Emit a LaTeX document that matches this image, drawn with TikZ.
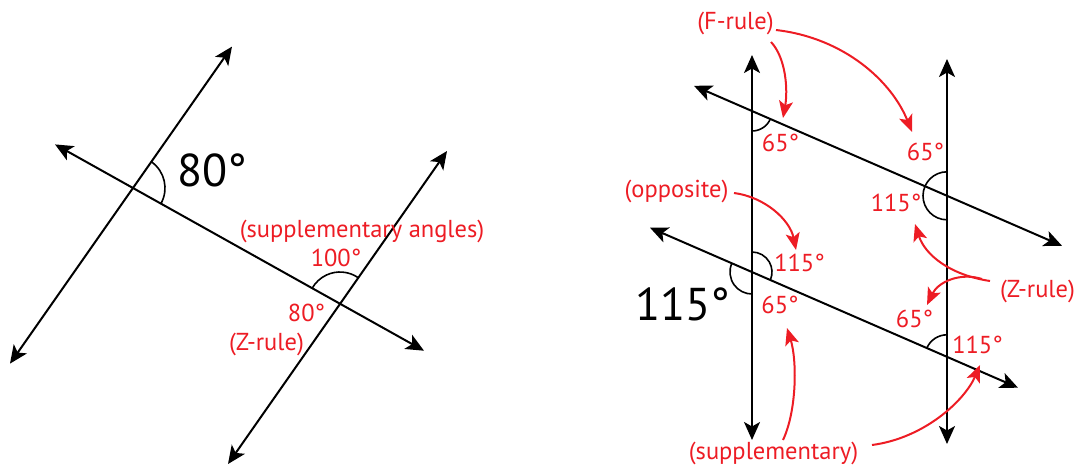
\documentclass[tikz,border=0pt]{standalone}
\usepackage{fontspec}
\setmainfont{PT Sans}
\usetikzlibrary{arrows.meta,calc}
\definecolor{myred}{HTML}{ED1C24}
\begin{document}
\begin{tikzpicture}[x=1pt,y=-1pt,
  blk/.style={line width=2pt, draw=black, {Stealth[length=18pt,width=16pt,inset=4.5pt]}-{Stealth[length=18pt,width=16pt,inset=4.5pt]}},
  arcline/.style={line width=1.6pt, draw=black},
  redarrow/.style={draw=myred, line width=2pt, -{Stealth[length=17pt,width=14pt,inset=4pt]}},
  redlabel/.style={text=myred, font=\fontsize{24.5}{24.5}\selectfont, anchor=base, inner sep=0pt},
  biglabel/.style={text=black, font=\fontsize{46}{46}\selectfont, anchor=base, inner sep=0pt}]
\useasboundingbox (0,0) rectangle (1081,472);

% ---------- left figure ----------
\coordinate (P1) at (133,188);
\coordinate (P2) at (340,304);
\coordinate (A1) at (10,363.6);
\coordinate (A2) at (232,46.6);
\coordinate (B1) at (55,144.4);
\coordinate (B2) at (424,350.7);
\coordinate (C1) at (228,464);
\coordinate (C2) at (447,151);
\draw[blk] (A1) -- (A2);
\draw[blk] (B1) -- (B2);
\draw[blk] (C1) -- (C2);
\draw[arcline] ($(P1)+(-55:32)$) arc[start angle=-55, end angle=29.2, radius=32];
\draw[arcline] ($(P2)+(-55:32)$) arc[start angle=-55, end angle=-150.8, radius=32];

\node[biglabel] (l80) at (212.5,186.7) {80°};
\node[redlabel] (lsa) at (362,237) {(supplementary angles)};
\node[redlabel] (l100) at (336,266.5) {100°};
\node[redlabel] (l80r) at (306.5,321.5) {80°};
\node[redlabel] (lz) at (266.5,350) {(Z-rule)};

% ---------- right figure ----------
\coordinate (V1t) at (752,55);
\coordinate (V1b) at (752,440);
\coordinate (V2t) at (947,59);
\coordinate (V2b) at (947,444);
\coordinate (T1l) at (694,85.8);
\coordinate (T1r) at (1062,245.8);
\coordinate (T2l) at (650,227.7);
\coordinate (T2r) at (1018,387.7);
\coordinate (Q1) at (752,111);
\coordinate (Q2) at (947,195.8);
\coordinate (Q3) at (752,272);
\coordinate (Q4) at (947,356.8);
\draw[blk] (V1b) -- (V1t);
\draw[blk] (V2b) -- (V2t);
\draw[blk] (T1l) -- (T1r);
\draw[blk] (T2l) -- (T2r);
\draw[arcline] ($(Q1)+(90:20)$) arc[start angle=90, end angle=23.5, radius=20];
\draw[arcline] ($(Q2)+(-90:24)$) arc[start angle=-90, end angle=-270, radius=24];
\draw[arcline] ($(Q3)+(-90:20)$) arc[start angle=-90, end angle=23.5, radius=20];
\draw[arcline] ($(Q3)+(-156.5:22)$) arc[start angle=-156.5, end angle=-270, radius=22];
\draw[arcline] ($(Q4)+(-90:22)$) arc[start angle=-90, end angle=-156.5, radius=22];

\node[redlabel] (fr) at (735.5,29.3) {(F-rule)};
\node[redlabel] (a65a) at (780.5,151.7) {65°};
\node[redlabel] (a65b) at (925.5,160.7) {65°};
\node[redlabel] (a115a) at (896,211.7) {115°};
\node[redlabel] (opp) at (676.5,197) {(opposite)};
\node[redlabel] (a115b) at (799.5,271.7) {115°};
\node[redlabel] (a65c) at (780,313.3) {65°};
\node[biglabel] (b115) at (683,320) {115°};
\node[redlabel] (zr) at (1037.5,297.3) {(Z-rule)};
\node[redlabel] (a65d) at (914.5,327.3) {65°};
\node[redlabel] (a115c) at (977.5,353.3) {115°};
\node[redlabel] (sup) at (773.5,459) {(supplementary)};

% red arrows
\coordinate (f1s) at (771,42);   \coordinate (f1e) at (783,118);
\coordinate (f2s) at (776,30);   \coordinate (f2e) at (912,132);
\coordinate (o1s) at (734,193);  \coordinate (o1e) at (796,250);
\coordinate (z1s) at (990,281);  \coordinate (z1e) at (915,224);
\coordinate (z2s) at (982,279);  \coordinate (z2e) at (927,305);
\coordinate (s1s) at (783,440);  \coordinate (s1e) at (787,328);
\coordinate (s2s) at (872,445);  \coordinate (s2e) at (980,365);
\draw[redarrow] (f1s) .. controls (786,58) and (788,90) .. (f1e);
\draw[redarrow] (f2s) .. controls (845,38) and (892,82) .. (f2e);
\draw[redarrow] (o1s) .. controls (765,197) and (790,220) .. (o1e);
\draw[redarrow] (z1s) .. controls (950,275) and (925,255) .. (z1e);
\draw[redarrow] (z2s) .. controls (960,272) and (938,282) .. (z2e);
\draw[redarrow] (s1s) .. controls (797,410) and (797,360) .. (s1e);
\draw[redarrow] (s2s) .. controls (925,438) and (965,400) .. (s2e);
\end{tikzpicture}
\end{document}
